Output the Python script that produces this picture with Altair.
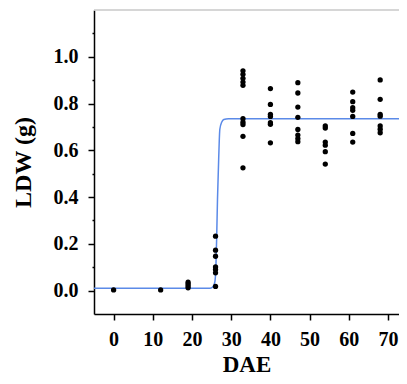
import altair as alt
import pandas as pd

# Data
dae_days = [0, 12, 19, 26, 33, 40, 47, 54, 61, 68]
ldw_d0 = [0.003]
ldw_d12 = [0.003]
ldw_d19 = [0.036, 0.028, 0.020, 0.012]
ldw_d26 = [0.233, 0.173, 0.147, 0.101, 0.090, 0.076, 0.018]
ldw_d33 = [0.940, 0.925, 0.908, 0.892, 0.878, 0.735, 0.720, 0.710, 0.660, 0.525]
ldw_d40 = [0.864, 0.796, 0.754, 0.745, 0.718, 0.711, 0.632]
ldw_d47 = [0.889, 0.845, 0.785, 0.741, 0.689, 0.665, 0.650, 0.637]
ldw_d54 = [0.704, 0.695, 0.635, 0.622, 0.594, 0.541]
ldw_d61 = [0.849, 0.808, 0.782, 0.771, 0.745, 0.672, 0.635]
ldw_d68 = [0.901, 0.818, 0.754, 0.746, 0.704, 0.690, 0.675]

# fitted curve
curve_dae = [-5, 24.6, 25.4, 25.85, 26.1, 26.3, 26.5, 26.8, 27.1, 27.6, 28.1, 29.3, 73.6]
curve_ldw = [0.010, 0.010, 0.018, 0.040, 0.104, 0.233, 0.39, 0.561, 0.69, 0.721, 0.732, 0.735, 0.735]

x_ticks = [0, 10, 20, 30, 40, 50, 60, 70]
y_ticks = [0.0, 0.1, 0.2, 0.3, 0.4, 0.5, 0.6, 0.7, 0.8, 0.9, 1.0, 1.1]
y_top = [1.2]

groups = [ldw_d0, ldw_d12, ldw_d19, ldw_d26, ldw_d33, ldw_d40, ldw_d47, ldw_d54, ldw_d61, ldw_d68]
rows = []
for d, vals in zip(dae_days, groups):
    for v in vals:
        rows.append({"DAE": d, "LDW": v})
pts = pd.DataFrame(rows)
curve = pd.DataFrame({"DAE": curve_dae, "LDW": curve_ldw})
top = pd.DataFrame({"LDW": y_top})

FONT = "Liberation Serif"

xscale = alt.Scale(domain=[-5, 72.8], nice=False, zero=False)
yscale = alt.Scale(domain=[-0.1, 1.2], nice=False, zero=False)

xaxis = alt.Axis(values=x_ticks, title="DAE", grid=False, tickSize=6, labelPadding=9,
                 titlePadding=4, format="d", titleFontSize=23)
yaxis = alt.Axis(values=y_ticks, title="LDW (g)", grid=False, format=".1f",
                 labelExpr="round(datum.value*10) % 2 === 0 ? datum.label : ''",
                 tickSize={"condition": {"test": "round(datum.value*10) % 2 === 0", "value": 6}, "value": 2},
                 labelPadding=10, titlePadding=18)

topline = alt.Chart(top).mark_rule(color="#c8c8c8", strokeWidth=1.5).encode(
    y=alt.Y("LDW:Q", scale=yscale, axis=yaxis),
)
line = alt.Chart(curve).mark_line(color="#5b8ae8", strokeWidth=1.5, interpolate="monotone", clip=True).encode(
    x=alt.X("DAE:Q", scale=xscale, axis=xaxis),
    y=alt.Y("LDW:Q", scale=yscale, axis=yaxis),
)
dots = alt.Chart(pts).mark_circle(color="black", size=28, opacity=1).encode(
    x=alt.X("DAE:Q", scale=xscale, axis=xaxis),
    y=alt.Y("LDW:Q", scale=yscale, axis=yaxis),
)

chart = (topline + line + dots).properties(
    width=305, height=304,
    autosize=alt.AutoSizeParams(type="none"),
    padding={"left": 86, "top": 2, "right": 0, "bottom": 62},
).configure_view(
    stroke=None
).configure_axis(
    domainColor="black", domainWidth=1.5, tickColor="black", tickWidth=1.5,
    labelFont=FONT, labelFontSize=20, labelFontWeight="bold", labelColor="black",
    titleFont=FONT, titleFontSize=24, titleFontWeight="bold", titleColor="black",
)

chart.save("out.html", embed_options={"renderer": "svg", "actions": False})
